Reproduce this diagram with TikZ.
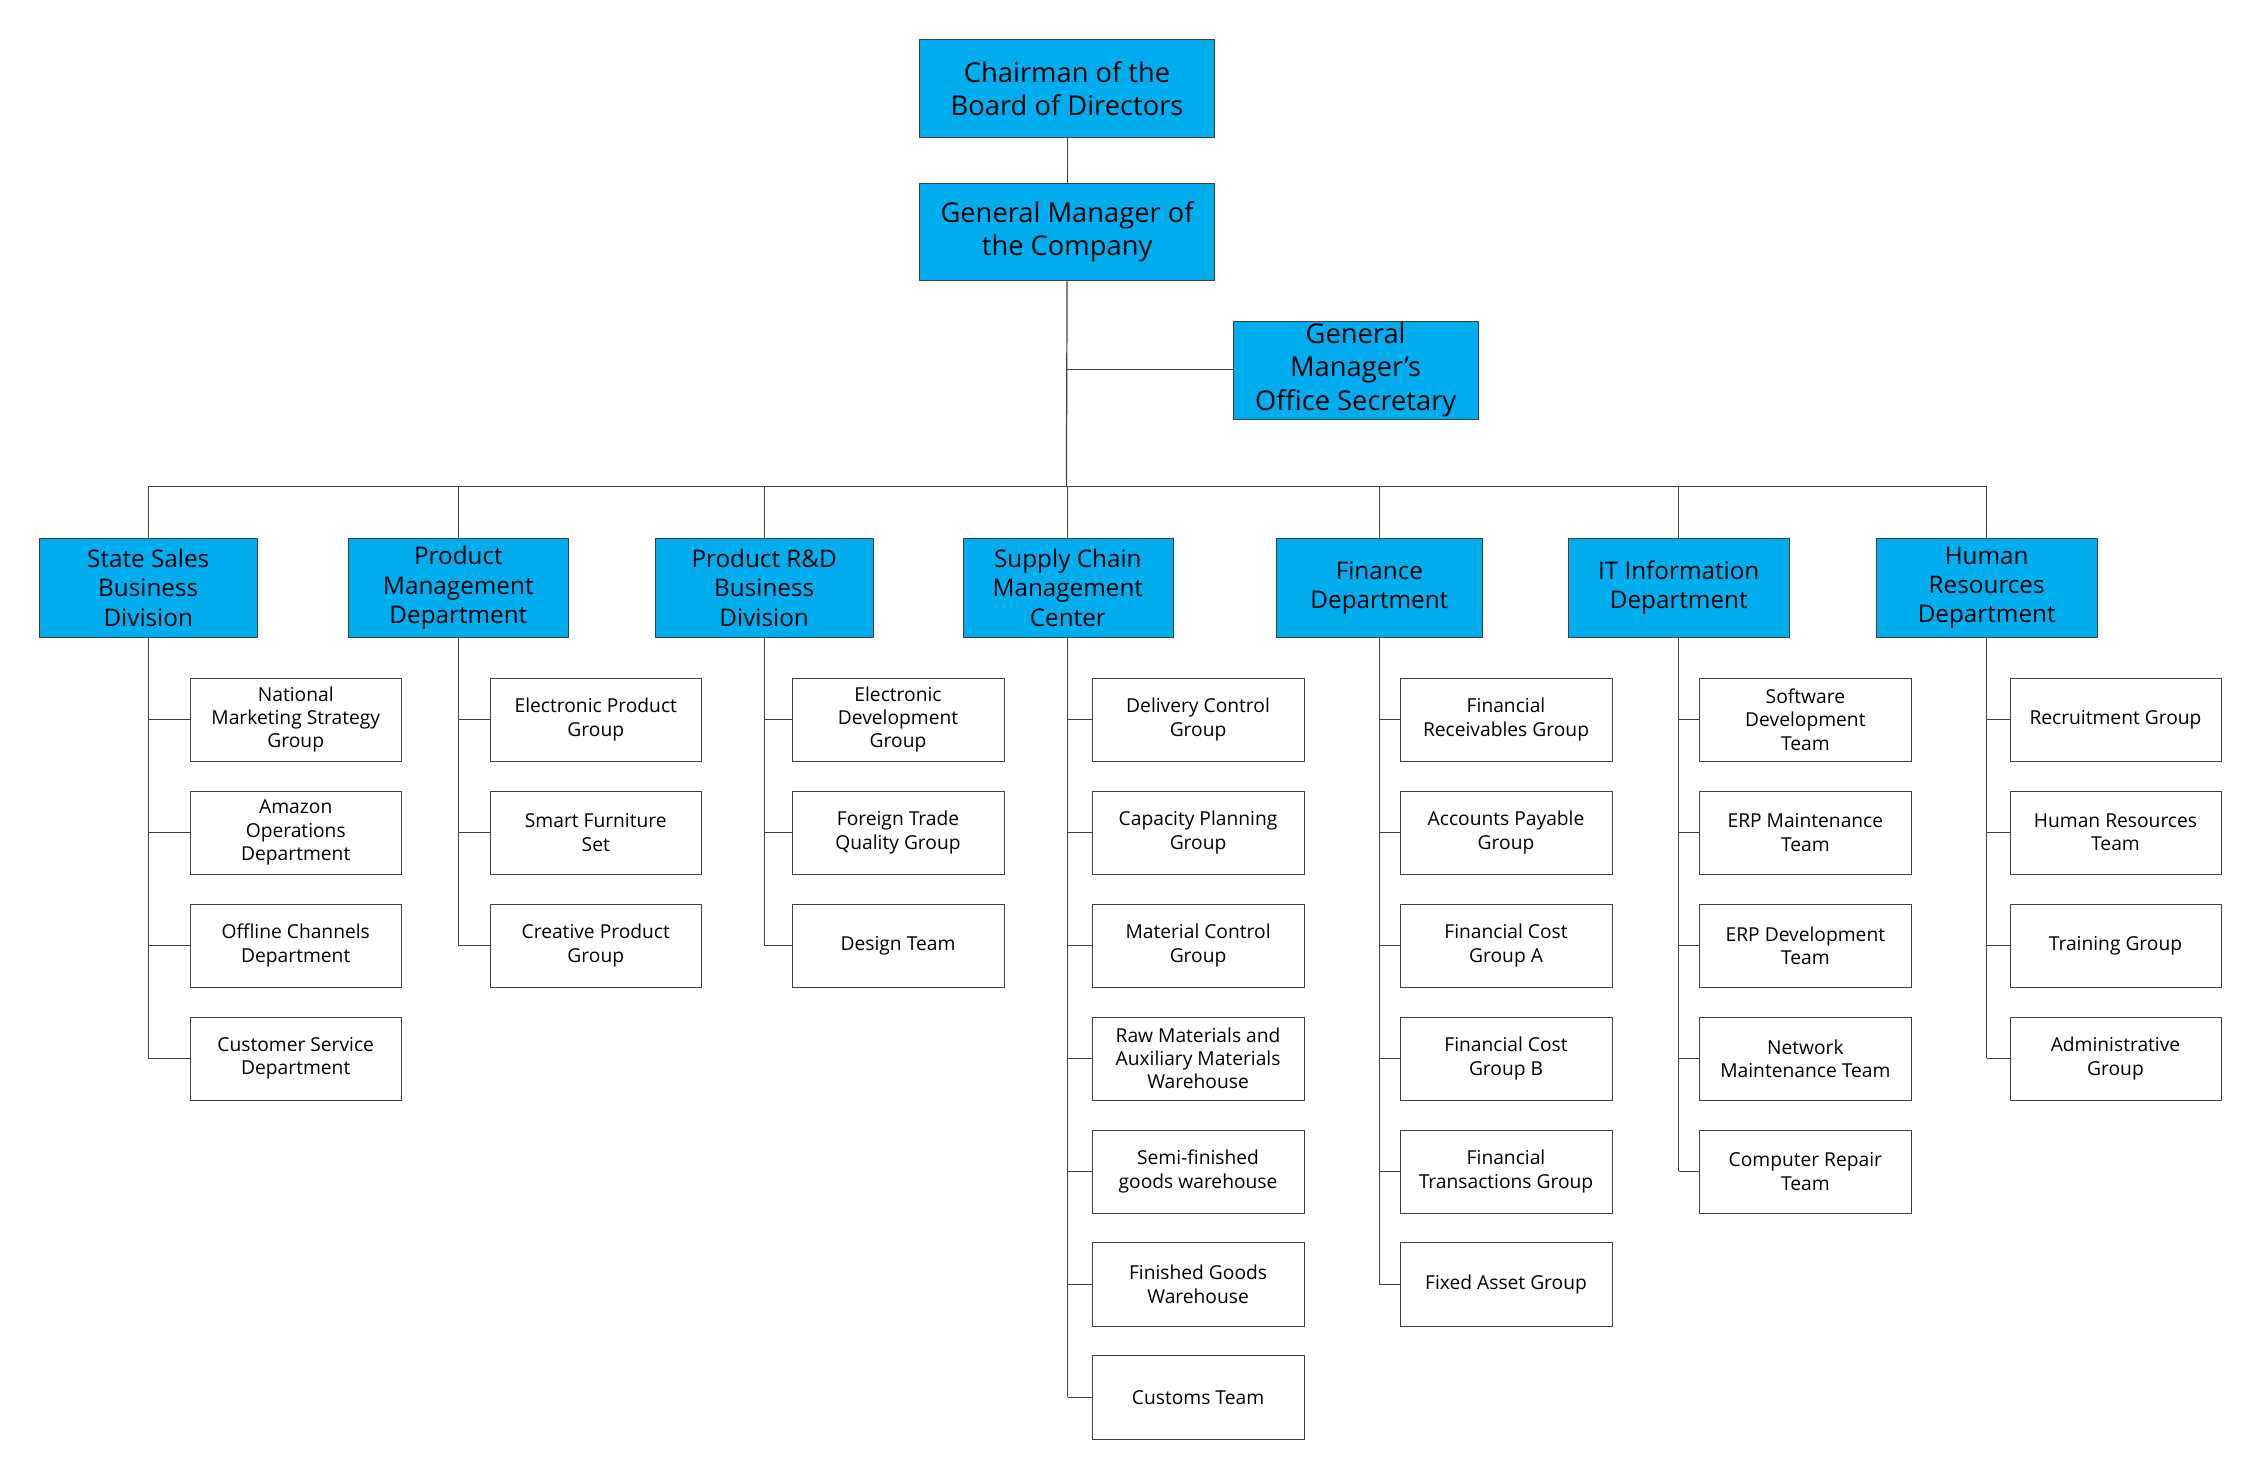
\documentclass[tikz,border=0pt]{standalone}
\usepackage{fontspec}
\setmainfont{Open Sans}
\definecolor{cyanbox}{HTML}{00AEEF}
\definecolor{ln}{HTML}{404040}
\begin{document}
\begin{tikzpicture}[x=0.05cm,y=-0.05cm,
  topbox/.style={draw=ln,fill=cyanbox,align=center,inner sep=0,minimum width=10.25cm,minimum height=3.4cm,font=\fontsize{27}{33}\selectfont},
  deptbox/.style={draw=ln,fill=cyanbox,align=center,inner sep=0,minimum height=3.45cm,font=\fontsize{24}{29}\selectfont},
  childbox/.style={draw=ln,fill=white,align=center,inner sep=0,minimum width=7.35cm,minimum height=2.9cm,font=\fontsize{19}{23}\selectfont},
  conn/.style={draw=ln,line width=1.2pt}]
\useasboundingbox (0,0) rectangle (1560,1020);
\node[topbox] (ch) at (741.5,61.5) {Chairman of the\\Board of Directors};
\node[topbox] (gm) at (741.5,161) {General Manager of\\the Company};
\node[topbox,minimum width=8.5cm] (sec) at (942,257) {General\\Manager's\\Office Secretary};
\coordinate (bus) at (741,338);
\draw[conn] (ch) -- (gm);
\draw[conn] (gm.south) -- (bus);
\draw[conn] (sec.west) -- (sec.west -| gm.south);
\node[deptbox,minimum width=7.6cm] (d1) at (103,408.5) {State Sales\\Business\\Division};
\node[deptbox,minimum width=7.65cm] (d2) at (318.5,408.5) {Product\\Management\\Department};
\node[deptbox,minimum width=7.6cm] (d3) at (531,408.5) {Product R\&D\\Business\\Division};
\node[deptbox,minimum width=7.3cm] (d4) at (742,408.5) {Supply Chain\\Management\\Center};
\node[deptbox,minimum width=7.15cm] (d5) at (958.5,408.5) {Finance\\Department};
\node[deptbox,minimum width=7.65cm] (d6) at (1166.5,408.5) {IT Information\\Department};
\node[deptbox,minimum width=7.65cm] (d7) at (1380.5,408.5) {Human\\Resources\\Department};
\draw[conn] (d1.north |- bus) -- (d7.north |- bus);
\foreach \d in {1,...,7} \draw[conn] (d\d.north) -- (d\d.north |- bus);
\foreach \d/\cx/\lst in {
 1/205.5/{{National\\Marketing Strategy\\Group},{Amazon\\Operations\\Department},{Offline Channels\\Department},{Customer Service\\Department}},
 2/414/{{Electronic Product\\Group},{Smart Furniture\\Set},{Creative Product\\Group}},
 3/624/{{Electronic\\Development\\Group},{Foreign Trade\\Quality Group},{Design Team}},
 4/832.5/{{Delivery Control\\Group},{Capacity Planning\\Group},{Material Control\\Group},{Raw Materials and\\Auxiliary Materials\\Warehouse},{Semi-finished\\goods warehouse},{Finished Goods\\Warehouse},{Customs Team}},
 5/1046.5/{{Financial\\Receivables Group},{Accounts Payable\\Group},{Financial Cost\\Group A},{Financial Cost\\Group B},{Financial\\Transactions Group},{Fixed Asset Group}},
 6/1254.5/{{Software\\Development\\Team},{ERP Maintenance\\Team},{ERP Development\\Team},{Network\\Maintenance Team},{Computer Repair\\Team}},
 7/1470/{{Recruitment Group},{Human Resources\\Team},{Training Group},{Administrative\\Group}}}{
  \foreach \t [count=\i] in \lst {
    \pgfmathsetmacro{\cy}{500+78.5*(\i-1)}
    \node[childbox] (c\d-\i) at (\cx,\cy) {\t};
    \draw[conn] (c\d-\i.west) -- (c\d-\i.west -| d\d.south);
    \xdef\lastc{c\d-\i}
  }
  \draw[conn] (d\d.south) -- (d\d.south |- \lastc.west);
}
\end{tikzpicture}
\end{document}
